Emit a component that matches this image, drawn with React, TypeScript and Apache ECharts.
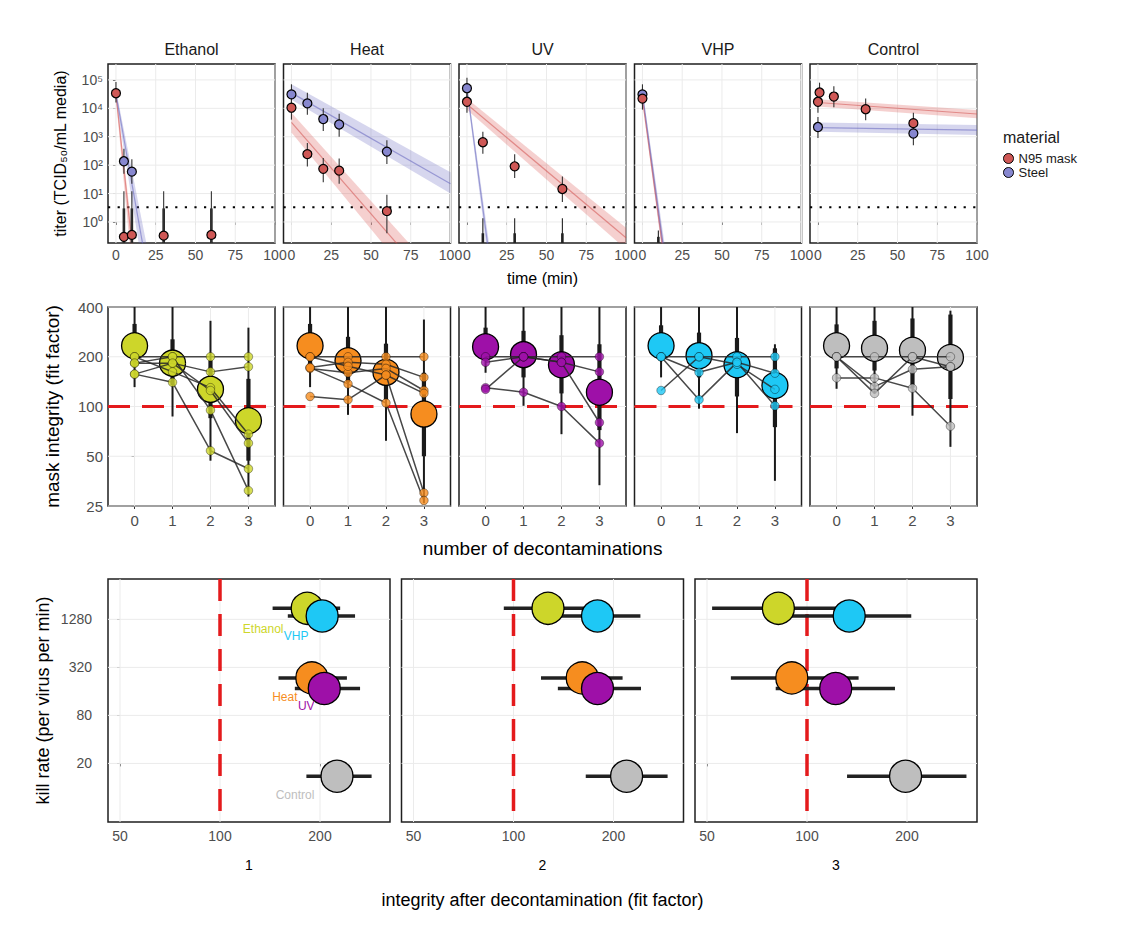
import React, { useEffect, useRef } from 'react';
import * as echarts from 'echarts';

const FONT = '"Liberation Sans", Arial, Helvetica, sans-serif';

// ---------------- categories ----------------
const methods = ['Ethanol', 'Heat', 'UV', 'VHP', 'Control'];
const methodColors = ['#cdd62a', '#f68d1f', '#9e10a8', '#1ec8f5', '#bebebe'];
const materials = ['N95 mask', 'Steel'];
const materialColors = ['#cf5856', '#8787cf'];
const bandFill = ['rgba(217,83,79,0.27)', 'rgba(105,105,192,0.27)'];
const bandLine = ['rgba(210,80,78,0.55)', 'rgba(100,100,190,0.55)'];

// ---------------- tick labels ----------------
const timeTicks = [0, 25, 50, 75, 100];
const titerTicks = [1, 10, 100, 1000, 10000, 100000];
const titerTickLabels = ['10⁰', '10¹', '10²', '10³', '10⁴', '10⁵'];
const deconTicks = [0, 1, 2, 3];
const integrityTicks = [25, 50, 100, 200, 400];
const fitTicks = [50, 100, 200];
const killTicks = [20, 80, 320, 1280];
const detectionLimit = 3.3;
const fitThreshold = 100;

// ---------------- top row: titer data ----------------
// points: [time, titer, lower, upper]
const pointsN95 = [
  [[0, 3.4e4, 1.6e4, 8.5e4], [5, 0.3, 0.1, 12], [10, 0.35, 0.1, 12], [30, 0.33, 0.1, 12], [60, 0.35, 0.1, 12]],
  [[0, 1.05e4, 4e3, 2.5e4], [10, 245, 90, 600], [20, 74, 25, 180], [30, 64, 22, 170], [60, 2.4, 0.4, 9]],
  [[0, 1.7e4, 7e3, 4e4], [10, 640, 250, 1500], [30, 91, 35, 240], [60, 14.5, 5, 40]],
  [[0, 2.2e4, 9e3, 5e4]],
  [[0, 1.7e4, 7e3, 4e4], [1, 3.6e4, 1.5e4, 8e4], [10, 2.6e4, 1.1e4, 6e4], [30, 9.3e3, 3.8e3, 2.2e4], [60, 3e3, 1.2e3, 7e3]],
];
const pointsSteel = [
  [[5, 137, 50, 380], [10, 59, 22, 160]],
  [[0, 3.1e4, 1.3e4, 7e4], [10, 1.5e4, 6e3, 3.5e4], [20, 4.2e3, 1.6e3, 1e4], [30, 2.7e3, 1e3, 6.5e3], [60, 300, 110, 750]],
  [[0, 5.1e4, 2e4, 1.2e5]],
  [[0, 3.1e4, 1.3e4, 7e4]],
  [[0, 2.2e3, 9e2, 5e3], [60, 1.3e3, 5e2, 3e3]],
];
// bars of samples below detection: [time, lower, upper]
const undetectedThin = [[], [], [[10, 0.1, 1.35], [30, 0.1, 1.35], [60, 0.1, 1.35]], [[10, 0.1, 0.5]], []];
const undetectedThick = [[[5, 0.1, 3], [10, 0.1, 3], [30, 0.1, 3], [60, 0.1, 3]], [], [[10, 0.1, 0.4], [30, 0.1, 0.4], [60, 0.1, 0.4]], [[10, 0.1, 0.3]], []];
// fitted decay bands: [t0, low0, high0, tLowEnd, lowEnd, tHighEnd, highEnd]
const bandN95 = [
  [0, 2.0e4, 4.0e4, 9.0, 0.1, 11.5, 0.1],
  [0, 1.4e3, 7.0e3, 61, 0.1, 78, 0.1],
  [0, 8.9e3, 2.2e4, 100, 0.11, 100, 0.63],
  [0, 1.6e4, 3.0e4, 12.3, 0.1, 13.8, 0.1],
  [0, 1.15e4, 2.1e4, 100, 4.5e3, 100, 8.7e3],
];
const bandSteel = [
  [0, 2.0e4, 4.5e4, 15, 0.1, 20, 0.1],
  [0, 2.0e4, 7.1e4, 100, 10, 100, 56],
  [0, 3.5e4, 7.1e4, 12.5, 0.1, 14.5, 0.1],
  [0, 2.2e4, 4.5e4, 12.5, 0.1, 14.5, 0.1],
  [0, 1.5e3, 3.2e3, 100, 1.15e3, 100, 2.6e3],
];
// fitted central lines: [t0, titer0, t1, titer1]
const centerN95 = [
  [0, 3.2e4, 10.5, 0.1],
  [0, 3.2e3, 70, 0.1],
  [0, 1.4e4, 100, 0.28],
  [0, 2.2e4, 13, 0.1],
  [0, 1.6e4, 100, 6.3e3],
];
const centerSteel = [
  [0, 3.2e4, 17.5, 0.1],
  [0, 3.5e4, 100, 22],
  [0, 5.0e4, 13.5, 0.1],
  [0, 3.2e4, 13.5, 0.1],
  [0, 2.1e3, 100, 1.7e3],
];

// ---------------- middle row: mask integrity ----------------
const meanIntegrity = [
  [233, 183, 127, 82],
  [233, 189, 161, 90],
  [230, 206, 179, 122],
  [233, 203, 179, 134],
  [233, 225, 219, 198],
];
// [lo95, hi95, lo68, hi68] per decontamination count
const meanIntervals = [
  [[131, 520, 175, 316], [87, 500, 135, 255], [47, 330, 85, 190], [28.5, 300, 47, 147]],
  [[131, 520, 175, 316], [89, 480, 140, 264], [62, 450, 110, 240], [26, 336, 50, 160]],
  [[160, 500, 190, 300], [101, 480, 150, 287], [68, 450, 120, 270], [33.4, 450, 72, 238]],
  [[150, 500, 190, 310], [97, 480, 150, 280], [69, 450, 115, 260], [35.5, 238, 75, 225]],
  [[128, 480, 170, 314], [120, 480, 165, 330], [88, 450, 130, 341], [57, 380, 111, 360]],
];
const masksEthanol = [
  [200, 200, 200, 200], [183, 183, 162, 174], [200, 162, 130, 68],
  [157, 140, 54, 42], [183, 200, 95, 31], [157, 183, 125, 60],
];
const masksHeat = [
  [200, 200, 200, 200], [172, 185, 180, 150], [170, 160, 170, 125],
  [115, 110, 155, 120], [200, 175, 155, 30], [172, 137, 105, 27],
];
const masksUV = [[200, 200, 200, 200], [185, 200, 185, 162], [130, 122, 100, 60], [127, 200, 185, 80]];
const masksVHP = [[200, 200, 200, 200], [200, 161, 185, 159], [125, 200, 180, 127], [200, 110, 185, 101]];
const masksControl = [[200, 200, 200, 200], [200, 132, 168, 174], [149, 149, 129, 76], [200, 120, 200, 174]];
const masksByMethod = [masksEthanol, masksHeat, masksUV, masksVHP, masksControl];

// ---------------- bottom row: kill rate vs integrity ----------------
const killRate = [1760, 236, 174, 1410, 13.8];
// [lo, hi] of integrity for decontamination 1, 2, 3
const afterIntervals1 = [[144, 230], [150, 241], [168, 264], [160, 255], [182, 286]];
const afterIntervals2 = [[93.5, 175], [121, 213], [136, 242], [138, 241], [165, 291]];
const afterIntervals3 = [[51.8, 123], [59, 143], [80.5, 184], [89, 206], [132, 302]];
const afterIntervals = [afterIntervals1, afterIntervals2, afterIntervals3];
const labelOffsets = [[-44, 21], [-27, 19], [-18, 18], [-26, 20], [-42, 19]];

// ---------------- layout ----------------
const panelLefts = [108, 283.5, 459, 634.5, 810];
const panelWidth = 167;
const bottomLefts = [108, 401.5, 695];
const bottomWidth = 282;

const log10 = (v: number) => Math.log10(v);
const intY = (v: number) => Math.log2(v / 25);
const intX = (v: number) => Math.log2(v / 50);
const killY = (v: number) => Math.log(v / 20) / Math.log(4);

function labelFor(ticks: number[], labels: string[]) {
  return (v: number) => {
    const k = ticks.findIndex((t) => Math.abs(t - v) < 1e-6);
    return k >= 0 ? labels[k] : '';
  };
}

function makeAxis(o: any) {
  return {
    type: 'value',
    gridIndex: o.gridIndex,
    min: o.min,
    max: o.max,
    axisLine: { show: false },
    axisTick: { show: o.show, length: 3, inside: false, lineStyle: { color: '#333', width: 1 }, customValues: o.ticks },
    axisLabel: {
      show: o.show, customValues: o.ticks, formatter: o.formatter,
      color: '#4d4d4d', fontSize: o.fontSize, margin: o.margin, fontFamily: FONT,
    },
    splitLine: { show: false },
    minorTick: { show: false },
    minorSplitLine: { show: false },
    name: o.name || '',
    nameLocation: 'middle',
    nameGap: o.nameGap || 20,
    nameTextStyle: { color: '#000', fontSize: o.nameSize || 14, fontFamily: FONT },
  };
}

function gridLines(idx: number, xs: number[], ys: number[]) {
  return {
    type: 'custom', xAxisIndex: idx, yAxisIndex: idx, silent: true, z: 1,
    data: [...xs.map((v) => [0, v]), ...ys.map((v) => [1, v])],
    renderItem: (params: any, api: any) => {
      const cs = params.coordSys;
      const kind = api.value(0);
      const v = api.value(1);
      if (kind === 0) {
        const x = api.coord([v, 0])[0];
        return { type: 'line', shape: { x1: x, y1: cs.y, x2: x, y2: cs.y + cs.height }, style: { stroke: '#ebebeb', lineWidth: 1 } };
      }
      const y = api.coord([0, v])[1];
      return { type: 'line', shape: { x1: cs.x, y1: y, x2: cs.x + cs.width, y2: y }, style: { stroke: '#ebebeb', lineWidth: 1 } };
    },
  };
}

function refLine(idx: number, kind: number, value: number, style: any) {
  return {
    type: 'custom', xAxisIndex: idx, yAxisIndex: idx, silent: true, z: 2,
    data: [[kind, value]],
    renderItem: (params: any, api: any) => {
      const cs = params.coordSys;
      const v = api.value(1);
      if (api.value(0) === 0) {
        const x = api.coord([v, 0])[0];
        return { type: 'line', shape: { x1: x, y1: cs.y, x2: x, y2: cs.y + cs.height }, style };
      }
      const y = api.coord([0, v])[1];
      return { type: 'line', shape: { x1: cs.x, y1: y, x2: cs.x + cs.width, y2: y }, style };
    },
  };
}

// vertical bars: data [x, lo, hi]
function vBars(idx: number, data: number[][], width: number, color: string, z = 3) {
  return {
    type: 'custom', xAxisIndex: idx, yAxisIndex: idx, silent: true, clip: true, z,
    data,
    renderItem: (params: any, api: any) => {
      const a = api.coord([api.value(0), api.value(1)]);
      const b = api.coord([api.value(0), api.value(2)]);
      return { type: 'line', shape: { x1: a[0], y1: a[1], x2: b[0], y2: b[1] }, style: { stroke: color, lineWidth: width } };
    },
  };
}

// horizontal bars: data [lo, hi, y]
function hBars(idx: number, data: number[][], width: number, color: string) {
  return {
    type: 'custom', xAxisIndex: idx, yAxisIndex: idx, silent: true, clip: true, z: 3,
    data,
    renderItem: (params: any, api: any) => {
      const a = api.coord([api.value(0), api.value(2)]);
      const b = api.coord([api.value(1), api.value(2)]);
      return { type: 'line', shape: { x1: a[0], y1: a[1], x2: b[0], y2: b[1] }, style: { stroke: color, lineWidth: width } };
    },
  };
}

function band(idx: number, b: number[], fill: string) {
  return {
    type: 'custom', xAxisIndex: idx, yAxisIndex: idx, silent: true, clip: true, z: 2,
    data: [[b[0], log10(b[1]), log10(b[2]), b[3], log10(b[4]), b[5], log10(b[6])]],
    renderItem: (params: any, api: any) => {
      const p1 = api.coord([api.value(0), api.value(1)]);
      const p2 = api.coord([api.value(3), api.value(4)]);
      const p3 = api.coord([api.value(5), api.value(6)]);
      const p4 = api.coord([api.value(0), api.value(2)]);
      return { type: 'polygon', shape: { points: [p1, p2, p3, p4] }, style: { fill } };
    },
  };
}

function buildOption() {
  const grid: any[] = [];
  const xAxis: any[] = [];
  const yAxis: any[] = [];
  const series: any[] = [];
  const graphic: any[] = [];
  const gridStyle = { show: true, borderColor: '#1f1f1f', borderWidth: 1.5, backgroundColor: '#fff', containLabel: false };

  // ---------- top row ----------
  for (let p = 0; p < 5; p++) {
    const idx = p;
    grid.push({ left: panelLefts[p], top: 64, width: panelWidth, height: 179, ...gridStyle });
    xAxis.push(makeAxis({
      gridIndex: idx, min: -5, max: 100, ticks: timeTicks, show: true, fontSize: 14, margin: 5,
      name: p === 2 ? 'time (min)' : '', nameGap: 27, nameSize: 16,
    }));
    yAxis.push(makeAxis({
      gridIndex: idx, min: -0.74, max: 5.56, ticks: titerTicks.map(log10), show: p === 0,
      formatter: labelFor(titerTicks.map(log10), titerTickLabels), fontSize: 14, margin: 5,
      name: p === 0 ? 'titer (TCID₅₀/mL media)' : '', nameGap: 40, nameSize: 16,
    }));
    series.push(gridLines(idx, timeTicks, titerTicks.map(log10)));
    series.push(refLine(idx, 1, log10(detectionLimit), { stroke: '#000', lineWidth: 2.2, lineDash: [2.2, 7.4] }));
    const bands = [bandN95[p], bandSteel[p]];
    const centers = [centerN95[p], centerSteel[p]];
    for (let m = 0; m < 2; m++) {
      series.push(band(idx, bands[m], bandFill[m]));
      const c = centers[m];
      series.push({
        type: 'line', xAxisIndex: idx, yAxisIndex: idx, silent: true, symbol: 'none', clip: true, z: 2,
        data: [[c[0], log10(c[1])], [c[2], log10(c[3])]],
        lineStyle: { color: bandLine[m], width: 1.2 },
      });
    }
    const pts = [pointsN95[p], pointsSteel[p]];
    series.push(vBars(idx, undetectedThin[p].map((d) => [d[0], log10(d[1]), log10(d[2])]), 1.1, '#222'));
    series.push(vBars(idx, undetectedThick[p].map((d) => [d[0], log10(d[1]), log10(d[2])]), 2.6, '#222'));
    for (let m = 0; m < 2; m++) {
      series.push(vBars(idx, pts[m].map((d) => [d[0], log10(d[2]), log10(d[3])]), 1.1, '#333'));
    }
    for (let m = 1; m >= 0; m--) {
      series.push({
        type: 'scatter', name: materials[m], xAxisIndex: idx, yAxisIndex: idx, z: 4,
        symbol: 'circle', symbolSize: 9,
        data: pts[m].map((d) => [d[0], log10(d[1])]),
        itemStyle: { color: materialColors[m], borderColor: '#000', borderWidth: 1.2, opacity: 1 },
      });
    }
    graphic.push({
      type: 'text', x: panelLefts[p] + panelWidth / 2, y: 49,
      style: { text: methods[p], fontSize: 16, fill: '#1a1a1a', align: 'center', verticalAlign: 'middle', fontFamily: FONT },
    });
  }

  // ---------- middle row ----------
  for (let p = 0; p < 5; p++) {
    const idx = 5 + p;
    grid.push({ left: panelLefts[p], top: 307, width: panelWidth, height: 199, ...gridStyle });
    xAxis.push(makeAxis({
      gridIndex: idx, min: -0.7, max: 3.7, ticks: deconTicks, show: true, fontSize: 15, margin: 7,
      name: p === 2 ? 'number of decontaminations' : '', nameGap: 33, nameSize: 19,
    }));
    yAxis.push(makeAxis({
      gridIndex: idx, min: 0, max: 4, ticks: integrityTicks.map(intY), show: p === 0,
      formatter: labelFor(integrityTicks.map(intY), integrityTicks.map(String)), fontSize: 15, margin: 5,
      name: p === 0 ? 'mask integrity (fit factor)' : '', nameGap: 46, nameSize: 19,
    }));
    series.push(gridLines(idx, deconTicks, integrityTicks.map(intY)));
    series.push(refLine(idx, 1, intY(fitThreshold), { stroke: '#e41a1c', lineWidth: 3.2, lineDash: [22, 12] }));
    const iv = meanIntervals[p];
    series.push(vBars(idx, deconTicks.map((d, k) => [d, intY(iv[k][0]), intY(iv[k][1])]), 2, '#1a1a1a'));
    series.push(vBars(idx, deconTicks.map((d, k) => [d, intY(iv[k][2]), intY(iv[k][3])]), 4.2, '#1a1a1a'));
    series.push({
      type: 'scatter', xAxisIndex: idx, yAxisIndex: idx, z: 4, silent: true,
      symbol: 'circle', symbolSize: 26,
      data: deconTicks.map((d, k) => [d, intY(meanIntegrity[p][k])]),
      itemStyle: { color: methodColors[p], borderColor: '#000', borderWidth: 1.3, opacity: 1 },
    });
    const masks = masksByMethod[p];
    masks.forEach((mk) => {
      series.push({
        type: 'line', xAxisIndex: idx, yAxisIndex: idx, z: 5, silent: true, symbol: 'none',
        data: deconTicks.map((d, k) => [d, intY(mk[k])]),
        lineStyle: { color: 'rgba(40,40,40,0.85)', width: 1.5 },
      });
    });
    const small: number[][] = [];
    masks.forEach((mk) => deconTicks.forEach((d, k) => small.push([d, intY(mk[k])])));
    series.push({
      type: 'scatter', xAxisIndex: idx, yAxisIndex: idx, z: 6, silent: true,
      symbol: 'circle', symbolSize: 8.5,
      data: small,
      itemStyle: { color: methodColors[p], opacity: 0.8, borderColor: 'rgba(0,0,0,0.45)', borderWidth: 1 },
    });
  }

  // ---------- bottom row ----------
  for (let b = 0; b < 3; b++) {
    const idx = 10 + b;
    grid.push({ left: bottomLefts[b], top: 579, width: bottomWidth, height: 243, ...gridStyle });
    xAxis.push(makeAxis({
      gridIndex: idx, min: -0.12, max: 2.7, ticks: fitTicks.map(intX), show: true,
      formatter: labelFor(fitTicks.map(intX), fitTicks.map(String)), fontSize: 14, margin: 7,
      name: String(b + 1), nameGap: 36, nameSize: 14,
    }));
    yAxis.push(makeAxis({
      gridIndex: idx, min: -1.22, max: 3.84, ticks: killTicks.map(killY), show: b === 0,
      formatter: labelFor(killTicks.map(killY), killTicks.map(String)), fontSize: 14, margin: 16,
      name: b === 0 ? 'kill rate (per virus per min)' : '', nameGap: 56, nameSize: 18,
    }));
    series.push(gridLines(idx, fitTicks.map(intX), killTicks.map(killY)));
    series.push(refLine(idx, 0, intX(fitThreshold), { stroke: '#e41a1c', lineWidth: 3.5, lineDash: [22, 13] }));
    series.push(hBars(idx, afterIntervals[b].map((r, i) => [intX(r[0]), intX(r[1]), killY(killRate[i])]), 3.5, '#222'));
    series.push({
      type: 'scatter', xAxisIndex: idx, yAxisIndex: idx, z: 4, silent: true,
      symbol: 'circle', symbolSize: 32,
      data: methods.map((name, i) => ({
        name,
        value: [intX(meanIntegrity[i][b + 1]), killY(killRate[i])],
        itemStyle: { color: methodColors[i], borderColor: '#000', borderWidth: 1.3, opacity: 1 },
        label: b === 0 ? {
          show: true, formatter: name, position: 'inside', offset: labelOffsets[i],
          color: methodColors[i], fontSize: 12, fontFamily: FONT,
        } : { show: false },
      })),
    });
  }

  graphic.push({
    type: 'text', x: 1003, y: 137,
    style: { text: 'material', fontSize: 16, fill: '#1a1a1a', align: 'left', verticalAlign: 'middle', fontFamily: FONT },
  });
  graphic.push({
    type: 'text', x: 542.5, y: 900,
    style: { text: 'integrity after decontamination (fit factor)', fontSize: 18, fill: '#000', align: 'center', verticalAlign: 'middle', fontFamily: FONT },
  });

  return {
    animation: false,
    backgroundColor: '#fff',
    textStyle: { fontFamily: FONT },
    grid, xAxis, yAxis, series, graphic,
    legend: {
      orient: 'vertical', left: 1003, top: 152, itemWidth: 10, itemHeight: 10, itemGap: 1,
      selectedMode: false, padding: 0,
      textStyle: { fontSize: 13, color: '#1a1a1a', fontFamily: FONT },
      data: materials.map((name, m) => ({
        name, icon: 'circle',
        itemStyle: { color: materialColors[m], borderColor: '#000', borderWidth: 1 },
      })),
    },
  };
}

export default function App() {
  const ref = useRef<HTMLDivElement>(null);
  useEffect(() => {
    document.body.style.margin = '0';
    const chart = echarts.init(ref.current as HTMLDivElement, null, { renderer: 'svg' });
    chart.setOption(buildOption() as any);
    return () => chart.dispose();
  }, []);
  return <div ref={ref} style={{ width: 1139, height: 943 }} />;
}
